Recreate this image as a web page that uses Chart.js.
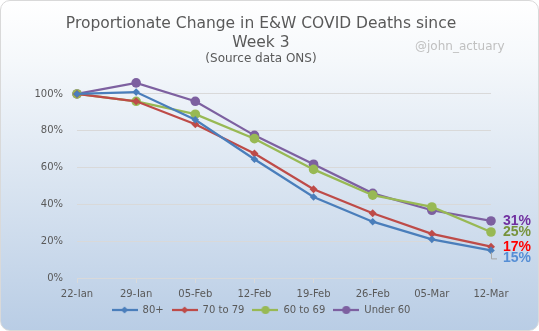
<!DOCTYPE html>
<html>
<head>
<meta charset="utf-8">
<script src="https://cdn.jsdelivr.net/npm/chart.js@4"></script>
<style>
  html, body { margin: 0; padding: 0; background: #ffffff; }
  .frame {
    position: relative;
    width: 537px;
    height: 329px;
    border: 1px solid #d9d9d9;
    border-radius: 10px;
    background: linear-gradient(to bottom, #ffffff 0%, #f5f8fb 18%, #b9cde5 100%);
    overflow: hidden;
  }
  canvas { display: block; }
</style>
</head>
<body>
<div class="frame">
  <canvas id="deathsChart" width="537" height="329"></canvas>
</div>
<script>
  // Week labels and series, indexed to week 3 = 100%
  const weeks = ["22-Jan", "29-Jan", "05-Feb", "12-Feb", "19-Feb", "26-Feb", "05-Mar", "12-Mar"];
  const age80plus = [100, 101, 86, 64.5, 44, 30.6, 21, 15];
  const age70to79 = [100, 96, 83.5, 67.6, 48.2, 35.2, 24, 17];
  const age60to69 = [100, 96, 89, 75.7, 59, 45, 38.6, 25];
  const under60 = [100, 106, 96, 77.5, 61.8, 46, 36.8, 31];

  const seriesNames = ["80+", "70 to 79", "60 to 69", "Under 60"];
  const lineColors = ["#4a7ebb", "#be4b48", "#98b954", "#7d60a0"];
  const endLabelColors = ["#558ed5", "#ff0000", "#77933c", "#7030a0"];
  const markerStyles = ["rectRot", "rectRot", "circle", "circle"];
  const markerSizes = [3.8, 4, 4.8, 4.8];

  // axis runs a little past 100% so the peaks keep their markers; only 0-100 is labelled
  const yMax = 110;
  const yLabelTop = 100;

  const font = "'DejaVu Sans', Verdana, sans-serif";

  // small line+marker swatches for the legend
  function legendSwatch(i) {
    const c = document.createElement("canvas");
    c.width = 26;
    c.height = 10;
    const g = c.getContext("2d");
    g.strokeStyle = lineColors[i];
    g.lineWidth = 2.25;
    g.beginPath();
    g.moveTo(0, 5);
    g.lineTo(26, 5);
    g.stroke();
    g.fillStyle = lineColors[i];
    g.beginPath();
    if (markerStyles[i] === "circle") {
      g.arc(13, 5, 4, 0, Math.PI * 2);
    } else {
      g.moveTo(13, 1.5);
      g.lineTo(16.5, 5);
      g.lineTo(13, 8.5);
      g.lineTo(9.5, 5);
      g.closePath();
    }
    g.fill();
    return c;
  }

  // value labels at the right-hand end of each line
  const endLabels = {
    id: "endLabels",
    afterDatasetsDraw(chart) {
      const ctx = chart.ctx;
      ctx.save();
      ctx.font = "bold 14px 'Liberation Sans', Arial, sans-serif";
      ctx.textBaseline = "middle";
      ctx.textAlign = "left";
      chart.data.datasets.forEach((ds, i) => {
        const meta = chart.getDatasetMeta(i);
        const pt = meta.data[meta.data.length - 1];
        const value = ds.data[ds.data.length - 1];
        let y = pt.y;
        if (i === 0) {
          // pushed below the 70 to 79 label, with a leader line
          y = pt.y + 8;
          ctx.strokeStyle = "#a6a6a6";
          ctx.lineWidth = 1;
          ctx.beginPath();
          ctx.moveTo(pt.x + 0.5, pt.y + 2);
          ctx.lineTo(pt.x + 0.5, y + 0.5);
          ctx.lineTo(pt.x + 6, y + 0.5);
          ctx.stroke();
        }
        ctx.fillStyle = endLabelColors[i];
        ctx.fillText(Math.round(value) + "%", pt.x + 12, y);
      });
      ctx.restore();
    }
  };

  // handle in the top right corner
  const watermark = {
    id: "watermark",
    afterDraw(chart) {
      const ctx = chart.ctx;
      ctx.save();
      ctx.font = "12px " + font;
      ctx.fillStyle = "#c0c0c0";
      ctx.textAlign = "left";
      ctx.textBaseline = "middle";
      ctx.fillText("@john_actuary", 414, 46);
      ctx.restore();
    }
  };

  const seriesData = [age80plus, age70to79, age60to69, under60];

  const ctx = document.getElementById("deathsChart").getContext("2d");
  const chart = new Chart(ctx, {
    type: "line",
    data: {
      labels: weeks,
      datasets: seriesData.map((d, i) => ({
        label: seriesNames[i],
        data: d,
        borderColor: lineColors[i],
        backgroundColor: lineColors[i],
        borderWidth: 2.25,
        pointStyle: markerStyles[i],
        pointRadius: markerSizes[i],
        pointBackgroundColor: lineColors[i],
        pointBorderColor: lineColors[i],
        pointBorderWidth: 0,
        tension: 0,
        clip: false,
      })),
    },
    options: {
      responsive: false,
      animation: false,
      layout: {
        padding: { left: 30, right: 47, top: 0, bottom: 5 },
      },
      scales: {
        x: {
          offset: false,
          afterFit(scale) {
            scale.height = 19;
          },
          grid: {
            drawOnChartArea: false,
            color: "#d9d9d9",
            tickLength: 5,
          },
          border: { color: "#d9d9d9" },
          ticks: {
            color: "#595959",
            font: { family: font, size: 10 },
            maxRotation: 0,
            autoSkip: false,
            padding: 5,
          },
        },
        y: {
          min: 0,
          max: yMax,
          afterFit(scale) {
            scale.width = 46;
          },
          grid: {
            color: (c) => (c.tick && c.tick.value > yLabelTop ? "rgba(0,0,0,0)" : "#d9d9d9"),
            drawTicks: false,
          },
          border: { display: false },
          ticks: {
            stepSize: 20,
            color: "#595959",
            font: { family: font, size: 10 },
            padding: 14,
            callback: (v) => (v > yLabelTop ? "" : v + "%"),
          },
        },
      },
      plugins: {
        title: {
          display: true,
          text: ["Proportionate Change in E&W COVID Deaths since", "Week 3"],
          color: "#595959",
          font: { family: font, size: 15.5, weight: "normal", lineHeight: 1.23 },
          padding: { top: 13, bottom: 0 },
        },
        subtitle: {
          display: true,
          text: "(Source data ONS)",
          color: "#595959",
          font: { family: font, size: 12 },
          padding: { top: 0, bottom: 9 },
        },
        legend: {
          position: "bottom",
          labels: {
            usePointStyle: true,
            pointStyleWidth: 26,
            boxHeight: 10,
            padding: 8,
            color: "#595959",
            font: { family: font, size: 10 },
            generateLabels(chart) {
              return chart.data.datasets.map((ds, i) => ({
                text: ds.label,
                pointStyle: legendSwatch(i),
                fillStyle: lineColors[i],
                strokeStyle: lineColors[i],
                lineWidth: 0,
                fontColor: "#595959",
                datasetIndex: i,
              }));
            },
          },
        },
        tooltip: { enabled: false },
      },
    },
    plugins: [endLabels, watermark],
  });
</script>
</body>
</html>
